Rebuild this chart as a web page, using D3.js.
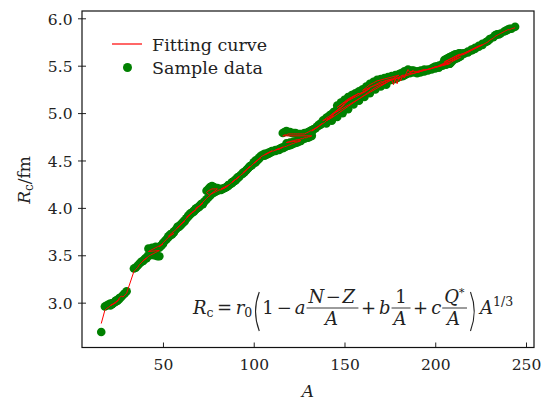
<!DOCTYPE html>
<html>
<head>
<meta charset="utf-8">
<script src="https://cdn.jsdelivr.net/npm/d3@7"></script>
<style>
  body { margin: 0; background: #fff; }
  svg text { font-family: "DejaVu Serif", serif; fill: #222; }
</style>
</head>
<body>
<svg id="chart" width="549" height="401"></svg>
<script>
// mass number A, measured radius, fitted radius (in plotting order, one run per line)
const sampleA = [
  16,
  18, 19, 20, 21, 22, 23, 24,
  21, 22, 23, 24, 25, 26,
  24, 25, 26, 27, 28, 29, 30,
  34, 35, 36, 37, 38, 39, 40, 41,
  39, 40, 41, 42, 43, 44, 45, 46, 47, 48,
  42, 43, 44, 45, 46, 47, 48, 49, 50,
  48, 49, 50, 51, 52, 53, 54, 55, 56,
  53, 54, 55, 56, 57, 58, 59, 60, 61, 62,
  58, 59, 60, 61, 62, 63, 64, 65, 66, 67, 68,
  63, 64, 65, 66, 67, 68, 69, 70, 71, 72,
  68, 69, 70, 71, 72, 73, 74, 75, 76,
  74, 75, 76, 77, 78, 79, 80,
  76, 77, 78, 79, 80, 81, 82, 83, 84, 85, 86,
  82, 84, 85, 86, 87, 88, 89, 90, 91, 92,
  88, 89, 90, 91, 92, 93, 94, 95, 96, 97, 98,
  94, 95, 96, 97, 98, 99, 100, 101, 102, 103, 104,
  100, 101, 102, 103, 104, 105, 106, 107, 108, 109, 110,
  106, 107, 108, 109, 110, 111, 112, 113, 114, 115, 116,
  112, 114, 116, 117, 118, 119, 120, 121, 122, 123, 124, 125, 126,
  118, 120, 122, 124, 125, 126, 127, 128, 129, 130, 131, 132,
  116, 117, 118, 119, 120, 121, 122, 123, 124, 125, 126, 127, 128,
  128, 129, 130, 131, 132, 133, 134, 135, 136, 137, 138,
  132, 134, 136, 137, 138, 139, 140, 141, 142, 143, 144,
  138, 139, 140, 141, 142, 143, 144, 145, 146, 147, 148, 149, 150,
  140, 143, 146, 149, 152, 155, 158, 161, 164, 167, 170, 173,
  142, 144, 146, 147, 148, 149, 150, 151, 152, 153, 154, 155, 156,
  146, 148, 150, 152, 154, 156, 158,
  150, 152, 154, 155, 156, 157, 158, 159, 160, 161, 162, 163, 164,
  158, 160, 162, 163, 164, 165, 166, 167, 168, 169, 170, 171, 172, 174, 176,
  160, 162, 164, 166, 168, 170, 172, 174, 176, 178, 180,
  170, 172, 174, 176, 177, 178, 179, 180, 181, 182, 183, 184, 186, 188, 190, 192,
  176, 177, 178, 179, 180, 181, 182, 183, 184, 185, 186, 187, 188,
  186, 188, 190, 192, 194, 196, 198, 199, 200, 201, 202, 203, 204, 205, 206, 207, 208,
  190, 192, 194, 196, 198, 200, 202, 204, 206, 208, 209, 210, 211, 212, 213, 214,
  202, 204, 206, 207, 208, 209, 210, 211, 212, 213, 214, 216, 218, 220, 221, 222, 224, 226,
  205, 206, 207, 208, 209, 210, 211, 212, 213, 214,
  214, 216, 218, 220, 222, 224, 226, 228, 229, 230, 232,
  233, 234, 235, 236, 238, 239, 240, 241, 242, 244
];

const sampleR = [
  2.69,
  2.96, 2.97, 2.98, 2.99, 2.985, 3.00, 3.02,
  2.97, 2.99, 3.00, 3.01, 3.02, 3.04,
  3.02, 3.03, 3.05, 3.06, 3.08, 3.10, 3.12,
  3.36, 3.37, 3.39, 3.41, 3.43, 3.44, 3.46, 3.47,
  3.44, 3.46, 3.48, 3.50, 3.50, 3.51, 3.50, 3.50, 3.49, 3.49,
  3.57, 3.56, 3.58, 3.57, 3.59, 3.58, 3.59, 3.60, 3.62,
  3.58, 3.60, 3.63, 3.65, 3.67, 3.69, 3.71, 3.72, 3.74,
  3.70, 3.72, 3.73, 3.75, 3.77, 3.79, 3.80, 3.82, 3.84, 3.86,
  3.80, 3.81, 3.83, 3.85, 3.87, 3.89, 3.91, 3.93, 3.95, 3.97, 3.98,
  3.89, 3.92, 3.94, 3.95, 3.96, 3.99, 4.00, 4.01, 4.03, 4.04,
  3.99, 4.00, 4.02, 4.04, 4.05, 4.07, 4.09, 4.11, 4.13,
  4.18, 4.20, 4.22, 4.23, 4.22, 4.21, 4.21,
  4.13, 4.15, 4.16, 4.17, 4.18, 4.19, 4.20, 4.20, 4.21, 4.22, 4.24,
  4.19, 4.21, 4.22, 4.23, 4.25, 4.26, 4.28, 4.29, 4.31, 4.33,
  4.27, 4.28, 4.30, 4.32, 4.33, 4.35, 4.37, 4.38, 4.40, 4.42, 4.44,
  4.36, 4.38, 4.40, 4.42, 4.44, 4.45, 4.47, 4.48, 4.50, 4.52, 4.54,
  4.48, 4.50, 4.51, 4.53, 4.55, 4.56, 4.57, 4.57, 4.58, 4.59, 4.60,
  4.55, 4.56, 4.57, 4.58, 4.59, 4.60, 4.61, 4.61, 4.62, 4.63, 4.64,
  4.60, 4.61, 4.63, 4.64, 4.65, 4.655, 4.66, 4.67, 4.68, 4.685, 4.69, 4.70, 4.705,
  4.68, 4.69, 4.70, 4.71, 4.72, 4.72, 4.73, 4.73, 4.74, 4.74, 4.75, 4.76,
  4.79, 4.80, 4.81, 4.80, 4.80, 4.79, 4.79, 4.79, 4.78, 4.78, 4.78, 4.78, 4.78,
  4.79, 4.79, 4.80, 4.81, 4.82, 4.83, 4.84, 4.86, 4.88, 4.89, 4.90,
  4.80, 4.84, 4.87, 4.88, 4.90, 4.91, 4.92, 4.93, 4.95, 4.96, 4.98,
  4.92, 4.93, 4.95, 4.96, 4.98, 4.99, 5.01, 5.02, 5.04, 5.05, 5.07, 5.08, 5.10,
  4.89, 4.92, 4.96, 5.00, 5.04, 5.09, 5.13, 5.17, 5.21, 5.25, 5.28, 5.30,
  4.96, 4.99, 5.02, 5.04, 5.06, 5.08, 5.10, 5.12, 5.14, 5.15, 5.17, 5.18, 5.19,
  5.08, 5.11, 5.14, 5.17, 5.19, 5.21, 5.23,
  5.10, 5.13, 5.15, 5.16, 5.17, 5.18, 5.19, 5.20, 5.21, 5.22, 5.24, 5.25, 5.27,
  5.20, 5.22, 5.24, 5.26, 5.27, 5.28, 5.30, 5.31, 5.32, 5.32, 5.33, 5.33, 5.34, 5.36, 5.37,
  5.25, 5.28, 5.31, 5.33, 5.35, 5.36, 5.37, 5.38, 5.39, 5.40, 5.41,
  5.30, 5.32, 5.34, 5.35, 5.36, 5.37, 5.37, 5.38, 5.39, 5.40, 5.40, 5.41, 5.42, 5.43, 5.43, 5.44,
  5.36, 5.38, 5.36, 5.40, 5.38, 5.42, 5.39, 5.44, 5.42, 5.46, 5.44, 5.45, 5.45,
  5.43, 5.44, 5.44, 5.45, 5.46, 5.46, 5.47, 5.48, 5.49, 5.49, 5.50, 5.50, 5.51, 5.52, 5.52, 5.53, 5.52,
  5.42, 5.43, 5.44, 5.45, 5.46, 5.47, 5.48, 5.50, 5.51, 5.52, 5.54, 5.56, 5.57, 5.58, 5.59, 5.60,
  5.50, 5.52, 5.54, 5.55, 5.55, 5.56, 5.57, 5.58, 5.60, 5.61, 5.62, 5.63, 5.64, 5.66, 5.67, 5.68, 5.70, 5.72,
  5.56, 5.57, 5.58, 5.59, 5.60, 5.61, 5.62, 5.62, 5.63, 5.63,
  5.62, 5.63, 5.65, 5.67, 5.69, 5.71, 5.73, 5.75, 5.76, 5.78, 5.80,
  5.82, 5.83, 5.83, 5.84, 5.86, 5.87, 5.88, 5.89, 5.89, 5.91
];

const fitR = [
  2.78,
  2.92, 2.94, 2.95, 2.97, 2.98, 2.99, 3.00,
  2.97, 2.98, 2.99, 3.01, 3.02, 3.04,
  3.00, 3.02, 3.05, 3.07, 3.06, 3.08, 3.10,
  3.33, 3.35, 3.37, 3.40, 3.42, 3.44, 3.46, 3.47,
  3.44, 3.46, 3.47, 3.49, 3.50, 3.51, 3.52, 3.53, 3.54, 3.55,
  3.54, 3.55, 3.56, 3.57, 3.58, 3.59, 3.60, 3.61, 3.62,
  3.59, 3.61, 3.63, 3.65, 3.67, 3.69, 3.70, 3.72, 3.73,
  3.70, 3.72, 3.74, 3.75, 3.77, 3.79, 3.81, 3.83, 3.85, 3.86,
  3.79, 3.81, 3.83, 3.85, 3.87, 3.89, 3.91, 3.93, 3.95, 3.96, 3.98,
  3.90, 3.92, 3.93, 3.95, 3.97, 3.98, 4.00, 4.02, 4.03, 4.05,
  3.99, 4.01, 4.02, 4.04, 4.06, 4.08, 4.10, 4.12, 4.13,
  4.16, 4.18, 4.19, 4.20, 4.20, 4.20, 4.20,
  4.14, 4.15, 4.16, 4.17, 4.18, 4.19, 4.19, 4.20, 4.21, 4.22, 4.24,
  4.20, 4.21, 4.22, 4.24, 4.25, 4.27, 4.28, 4.30, 4.31, 4.33,
  4.27, 4.29, 4.30, 4.32, 4.33, 4.35, 4.36, 4.38, 4.40, 4.42, 4.44,
  4.37, 4.38, 4.40, 4.42, 4.43, 4.45, 4.47, 4.48, 4.50, 4.52, 4.53,
  4.47, 4.49, 4.50, 4.52, 4.54, 4.55, 4.56, 4.57, 4.58, 4.59, 4.60,
  4.56, 4.57, 4.58, 4.59, 4.60, 4.60, 4.61, 4.62, 4.62, 4.63, 4.64,
  4.61, 4.62, 4.64, 4.645, 4.65, 4.66, 4.665, 4.675, 4.68, 4.69, 4.695, 4.70, 4.71,
  4.69, 4.70, 4.71, 4.72, 4.72, 4.73, 4.73, 4.74, 4.74, 4.75, 4.75, 4.76,
  4.76, 4.77, 4.77, 4.78, 4.78, 4.78, 4.78, 4.78, 4.78, 4.78, 4.78, 4.78, 4.78,
  4.78, 4.79, 4.80, 4.81, 4.82, 4.83, 4.84, 4.85, 4.87, 4.88, 4.89,
  4.81, 4.84, 4.86, 4.88, 4.89, 4.90, 4.92, 4.93, 4.94, 4.96, 4.97,
  4.92, 4.93, 4.95, 4.96, 4.97, 4.99, 5.00, 5.02, 5.03, 5.05, 5.06, 5.08, 5.09,
  4.92, 4.95, 4.99, 5.03, 5.07, 5.11, 5.15, 5.19, 5.23, 5.27, 5.30, 5.32,
  4.97, 5.00, 5.03, 5.05, 5.06, 5.08, 5.10, 5.11, 5.13, 5.15, 5.16, 5.17, 5.19,
  5.06, 5.09, 5.12, 5.15, 5.17, 5.19, 5.21,
  5.11, 5.13, 5.15, 5.16, 5.17, 5.18, 5.19, 5.20, 5.21, 5.22, 5.23, 5.25, 5.26,
  5.20, 5.22, 5.24, 5.25, 5.27, 5.28, 5.29, 5.30, 5.31, 5.32, 5.33, 5.33, 5.34, 5.35, 5.36,
  5.24, 5.27, 5.30, 5.32, 5.34, 5.35, 5.36, 5.37, 5.38, 5.39, 5.40,
  5.29, 5.31, 5.33, 5.35, 5.36, 5.37, 5.37, 5.38, 5.39, 5.40, 5.40, 5.41, 5.42, 5.42, 5.43, 5.44,
  5.35, 5.30, 5.36, 5.31, 5.38, 5.34, 5.40, 5.37, 5.42, 5.46, 5.43, 5.44, 5.45,
  5.43, 5.44, 5.44, 5.45, 5.46, 5.46, 5.47, 5.48, 5.49, 5.49, 5.50, 5.50, 5.51, 5.51, 5.52, 5.52, 5.53,
  5.43, 5.44, 5.45, 5.46, 5.47, 5.48, 5.49, 5.50, 5.51, 5.52, 5.54, 5.55, 5.56, 5.57, 5.58, 5.59,
  5.50, 5.52, 5.54, 5.54, 5.55, 5.56, 5.57, 5.58, 5.59, 5.60, 5.61, 5.62, 5.64, 5.66, 5.67, 5.68, 5.70, 5.72,
  5.54, 5.55, 5.56, 5.57, 5.58, 5.59, 5.60, 5.61, 5.62, 5.62,
  5.62, 5.63, 5.65, 5.67, 5.69, 5.71, 5.72, 5.74, 5.75, 5.77, 5.79,
  5.81, 5.82, 5.83, 5.84, 5.86, 5.87, 5.88, 5.88, 5.89, 5.90
];

const xTicks = [50, 100, 150, 200, 250];
const yTicks = [3.0, 3.5, 4.0, 4.5, 5.0, 5.5, 6.0];
const xDomain = [5.4, 254.4];
const yDomain = [2.527, 6.077];
const legendLabels = ['Fitting curve', 'Sample data'];

const svg = d3.select('#chart'),
    margin = {top: 11, right: 15, bottom: 53.5, left: 82},
    width = 549 - margin.left - margin.right,
    height = 401 - margin.top - margin.bottom,
    g = svg.append('g').attr('transform', `translate(${margin.left},${margin.top})`);

svg.insert('rect', ':first-child').attr('width', 549).attr('height', 401).attr('fill', '#fff');

const x = d3.scaleLinear().domain(xDomain).range([0, width]);
const y = d3.scaleLinear().domain(yDomain).range([height, 0]);

const samples = sampleA.map((a, i) => ({a: a, r: sampleR[i], f: fitR[i]}));

// scatter first, fitted line on top
g.append('g')
  .selectAll('circle')
  .data(samples)
  .join('circle')
    .attr('cx', d => x(d.a))
    .attr('cy', d => y(d.r))
    .attr('r', 4.3)
    .attr('fill', 'green');

const line = d3.line()
  .x(d => x(d.a))
  .y(d => y(d.f));

g.append('path')
  .datum(samples)
  .attr('fill', 'none')
  .attr('stroke', 'red')
  .attr('stroke-width', 1)
  .attr('d', line);

// axes
const xAxis = g.append('g')
  .attr('transform', `translate(0,${height})`)
  .call(d3.axisBottom(x).tickValues(xTicks).tickSize(-5).tickPadding(0).tickFormat(d3.format('d')));
xAxis.select('.domain').remove();
xAxis.selectAll('line').attr('stroke', '#222').attr('stroke-width', 1);
xAxis.selectAll('text')
  .attr('y', 22.5).attr('dy', null)
  .attr('font-family', '"DejaVu Serif", serif').attr('font-size', 15.5).attr('fill', '#222');

const yAxis = g.append('g')
  .call(d3.axisLeft(y).tickValues(yTicks).tickSize(4).tickPadding(0).tickFormat(d3.format('.1f')));
yAxis.select('.domain').remove();
yAxis.selectAll('line').attr('x1', 4).attr('stroke', '#222').attr('stroke-width', 1);
yAxis.selectAll('text')
  .attr('x', -9.5).attr('dy', null).attr('y', 5.7)
  .attr('font-family', '"DejaVu Serif", serif').attr('font-size', 15.5).attr('fill', '#222');

g.append('rect')
  .attr('width', width).attr('height', height)
  .attr('fill', 'none').attr('stroke', '#111').attr('stroke-width', 1.2);

// axis labels
svg.append('text')
  .attr('x', 308).attr('y', 396.5)
  .attr('text-anchor', 'middle').attr('font-size', 17).attr('font-style', 'italic')
  .text('A');

const yl = svg.append('text')
  .attr('transform', 'translate(30,180) rotate(-90)')
  .attr('text-anchor', 'middle').attr('font-size', 17);
yl.append('tspan').attr('font-style', 'italic').text('R');
yl.append('tspan').attr('font-size', 12).attr('dy', 3).text('c');
yl.append('tspan').attr('dy', -3).text('/fm');

// legend
const lg = svg.append('g');
lg.append('line').attr('x1', 112).attr('x2', 142).attr('y1', 44).attr('y2', 44)
  .attr('stroke', 'red').attr('stroke-width', 1.2);
lg.append('circle').attr('cx', 127.5).attr('cy', 67.5).attr('r', 4.5).attr('fill', 'green');
lg.selectAll('text').data(legendLabels).join('text')
  .attr('x', 152).attr('y', (d, i) => 50.5 + i * 23)
  .attr('font-size', 17.5)
  .text(d => d);

// formula  R_c = r_0 (1 - a (N-Z)/A + b 1/A + c Q*/A) A^(1/3)
const fs = 18, base = 314;
const fg = svg.append('g').attr('font-size', fs);
let cx = 193;

function word(parts, x0, y0) {
  const t = fg.append('text').attr('x', x0).attr('y', y0);
  parts.forEach(p => {
    t.append('tspan')
      .attr('font-style', p.it ? 'italic' : 'normal')
      .attr('font-size', p.size || fs)
      .attr('dx', p.dx || 0)
      .attr('dy', p.dy || 0)
      .text(p.s);
  });
  return t;
}
function put(parts, gap) {
  const t = word(parts, cx, base);
  const bb = t.node().getBBox();
  cx = bb.x + bb.width + (gap || 0);
}
function frac(num, den) {
  const tn = word(num, 0, base - 11), td = word(den, 0, base + 10.5);
  const wn = tn.node().getBBox().width, wd = td.node().getBBox().width;
  const w = Math.max(wn, wd) + 4;
  tn.attr('x', cx + (w - wn) / 2);
  td.attr('x', cx + (w - wd) / 2);
  fg.append('line').attr('x1', cx).attr('x2', cx + w).attr('y1', base - 6).attr('y2', base - 6)
    .attr('stroke', '#222').attr('stroke-width', 0.9);
  cx += w + 2.5;
}
function paren(left) {
  const top = base - 22, bot = base + 17, mid = (top + bot) / 2;
  const d = left
    ? `M${cx + 6},${top} Q${cx - 1.5},${mid} ${cx + 6},${bot}`
    : `M${cx + 1},${top} Q${cx + 8.5},${mid} ${cx + 1},${bot}`;
  fg.append('path').attr('d', d).attr('fill', 'none').attr('stroke', '#222').attr('stroke-width', 1.1);
  cx += 9;
}

put([{s: 'R', it: 1}, {s: 'c', size: 12.5, dy: 3}], 3.5);
put([{s: '='}], 3.5);
put([{s: 'r', it: 1}, {s: '0', size: 12.5, dy: 3}], 1);
paren(true);
put([{s: '1'}], 3);
put([{s: '−'}], 3);
put([{s: 'a', it: 1}], 1);
frac([{s: 'N', it: 1}, {s: '−', dx: 1.5}, {s: 'Z', it: 1, dx: 1.5}], [{s: 'A', it: 1}]);
put([{s: '+'}], 3);
put([{s: 'b', it: 1}], 1);
frac([{s: '1'}], [{s: 'A', it: 1}]);
put([{s: '+'}], 3);
put([{s: 'c', it: 1}], 1);
frac([{s: 'Q', it: 1}, {s: '*', size: 11, dy: -7}], [{s: 'A', it: 1}]);
paren(false);
put([{s: 'A', it: 1, dx: 1.5}, {s: '1/3', size: 12.5, dy: -8}], 0);
</script>
</body>
</html>
